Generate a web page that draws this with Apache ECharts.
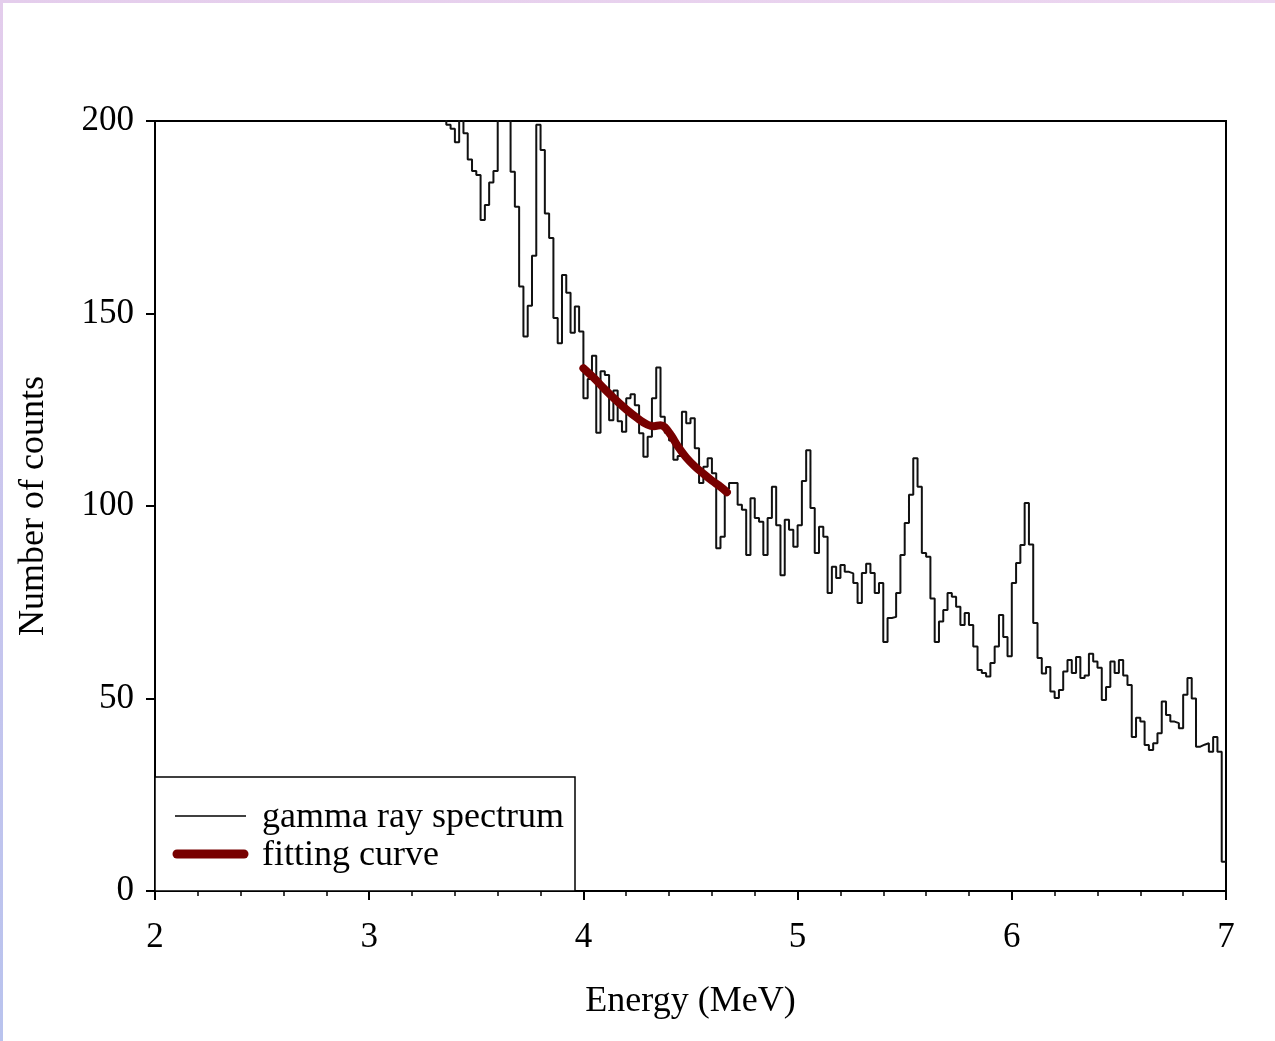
<!DOCTYPE html>
<html>
<head>
<meta charset="utf-8">
<script src="https://cdn.jsdelivr.net/npm/echarts@6/dist/echarts.min.js"></script>
<style>
  html, body { margin: 0; padding: 0; background: #ffffff; }
  #edgeTop { position: absolute; left: 0; top: 0; width: 1275px; height: 3px; background: linear-gradient(to right, #e4cdec, #ecd6f0); }
  #edgeLeft { position: absolute; left: 0; top: 0; width: 3px; height: 1041px; background: linear-gradient(to bottom, #e4cdec, #c9c6ee, #b9c3ee); }
  #chart { position: absolute; left: 0; top: 0; width: 1275px; height: 1041px; }
</style>
</head>
<body>
<div id="chart"></div>
<div id="edgeTop"></div>
<div id="edgeLeft"></div>
<script>
// ---- data ----
const binStart = 3.34;   // MeV, left edge of first bin
const binWidth = 0.02;   // MeV
const counts = [
  210, 199, 198, 194.5, 202, 196.8, 190, 187, 186, 174.3,
  178.2, 184, 187, 220, 220, 215, 186.8, 177.7, 157, 144,
  152, 165, 199, 192.5, 176, 169.6, 148.8, 142.3, 160, 155.4,
  145, 151.8, 145.3, 128, 133, 139, 119, 135, 134, 122.3,
  130, 122, 119.3, 128, 129, 126.2, 118.9, 112.8, 118, 128,
  136, 123.2, 119, 117, 112, 113, 124.5, 121.5, 122.8, 115,
  106, 110.2, 112.4, 108.5, 89, 92, 104.5, 106, 106, 100.3,
  99, 87.3, 102, 96.9, 95.9, 87.3, 96.9, 105, 95, 82,
  96.4, 93.8, 89.4, 95, 106.5, 114.5, 99.5, 87.8, 94.6, 92,
  77.4, 84.2, 81.3, 84.7, 82.9, 82.5, 80, 74.8, 82.6, 85,
  82.6, 77.4, 80, 64.7, 70.9, 71.2, 77.4, 87.3, 95.6, 102.9,
  112.4, 105, 87.8, 86.8, 76, 64.7, 70, 73, 77.4, 76.4,
  73.8, 69.1, 72.2, 69.1, 63.5, 57.4, 56.6, 55.7, 59.2, 63.5,
  71.7, 66, 61, 80, 85.2, 89.9, 100.8, 90, 69.6, 60.5,
  56.5, 58.2, 51.8, 50.1, 52.2, 57, 60, 56.6, 60.8, 55.3,
  56, 61.6, 59.6, 58, 49.6, 53, 59.6, 56.6, 60, 56,
  53.5, 40, 45, 44, 37.9, 36.6, 38.4, 41, 49.2, 45.7,
  44, 43.6, 42.3, 51, 55.3, 50, 37.5, 38, 38.4, 36.2,
  40, 36.2, 7.6
];
const fitEnergy = [4.00, 4.05, 4.10, 4.15, 4.20, 4.25, 4.30, 4.33, 4.36, 4.38, 4.41, 4.44, 4.48, 4.52, 4.56, 4.60, 4.64, 4.67];
const fitCounts = [135.8, 133.2, 130.3, 127.6, 125.1, 122.9, 121.1, 120.7, 121.0, 120.5, 118.3, 115.6, 112.6, 110.3, 108.4, 106.6, 105.0, 103.6];
const xTicks = [2, 3, 4, 5, 6, 7];
const yTicks = [0, 50, 100, 150, 200];
const seriesNames = ['gamma ray spectrum', 'fitting curve'];

// ---- build series data ----
const spectrum = counts.map((v, i) => [+(binStart + i * binWidth).toFixed(3), v]);
spectrum.push([+(binStart + counts.length * binWidth).toFixed(3), counts[counts.length - 1]]);
const fit = fitEnergy.map((e, i) => [e, fitCounts[i]]);

const FONT = "'Liberation Serif', 'DejaVu Serif', serif";
const RED = '#780000';
const chart = echarts.init(document.getElementById('chart'), null, { renderer: 'canvas' });
chart.setOption({
  backgroundColor: '#ffffff',
  animation: false,
  grid: { left: 155, right: 49, top: 121, bottom: 150, show: true, borderColor: '#000', borderWidth: 2, backgroundColor: 'transparent' },
  xAxis: {
    type: 'value', min: xTicks[0], max: xTicks[xTicks.length - 1], interval: 1,
    name: 'Energy (MeV)', nameLocation: 'middle', nameGap: 93,
    nameTextStyle: { fontFamily: FONT, fontSize: 36, color: '#000' },
    axisLine: { show: true, onZero: false, lineStyle: { color: '#000', width: 2 } },
    axisTick: { show: true, length: 9, lineStyle: { color: '#000', width: 2 } },
    minorTick: { show: true, splitNumber: 5, length: 5, lineStyle: { color: '#000', width: 1.5 } },
    axisLabel: { margin: 29, fontFamily: FONT, fontSize: 35, color: '#000' },
    splitLine: { show: false }
  },
  yAxis: {
    type: 'value', min: yTicks[0], max: yTicks[yTicks.length - 1], interval: 50,
    name: 'Number of counts', nameLocation: 'middle', nameGap: 103,
    nameTextStyle: { fontFamily: FONT, fontSize: 36, color: '#000' },
    axisLine: { show: true, onZero: false, lineStyle: { color: '#000', width: 2 } },
    axisTick: { show: true, length: 9, lineStyle: { color: '#000', width: 2 } },
    axisLabel: { margin: 21, fontFamily: FONT, fontSize: 35, color: '#000' },
    splitLine: { show: false }
  },
  legend: { show: false },
  graphic: [
    { type: 'rect', z: 1, shape: { x: 155, y: 777, width: 420, height: 114 },
      style: { fill: '#fff', stroke: '#000', lineWidth: 1.5 } },
    { type: 'line', z: 2, shape: { x1: 175, y1: 816, x2: 246, y2: 816 },
      style: { stroke: '#000', lineWidth: 1.6 } },
    { type: 'text', z: 2, left: 262, top: 800,
      style: { text: seriesNames[0], font: "36px " + FONT, fill: '#000' } },
    { type: 'line', z: 2, shape: { x1: 177, y1: 854, x2: 244, y2: 854 },
      style: { stroke: RED, lineWidth: 9, lineCap: 'round' } },
    { type: 'text', z: 2, left: 262, top: 838,
      style: { text: seriesNames[1], font: "36px " + FONT, fill: '#000' } }
  ],
  series: [
    {
      name: seriesNames[0], type: 'line', step: 'end', data: spectrum, showSymbol: false, symbol: 'none',
      clip: true, z: 3,
      lineStyle: { color: '#111', width: 2 }, itemStyle: { color: '#111' }
    },
    {
      name: seriesNames[1], type: 'line', smooth: 0.35, data: fit, showSymbol: false, symbol: 'none',
      clip: true, z: 4,
      lineStyle: { color: RED, width: 8, cap: 'round', join: 'round' }, itemStyle: { color: RED }
    }
  ]
});
</script>
</body>
</html>
